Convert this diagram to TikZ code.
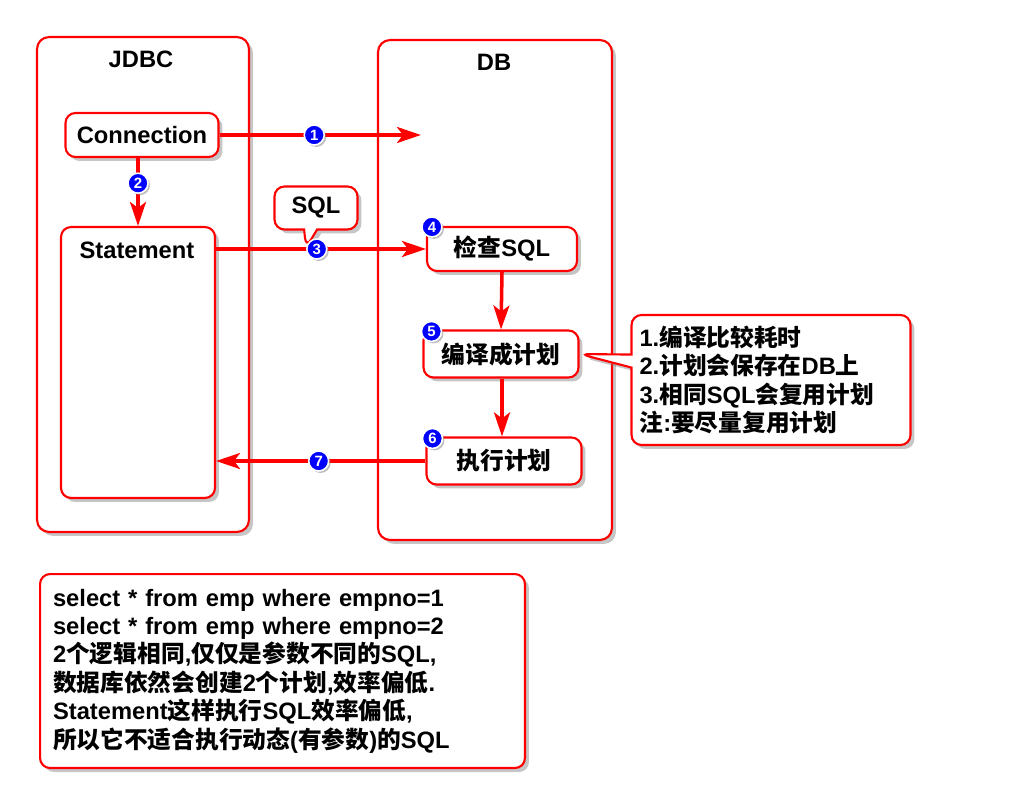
\documentclass[tikz,border=0pt]{standalone}
\usepackage{fontspec}
\setmainfont{Liberation Sans}
\newfontfamily\cjk{Noto Sans CJK SC}
\usepackage{xcolor}
\usetikzlibrary{%
  shadows, shapes.callouts, arrows.meta, positioning, calc
}
\newcommand{\zh}[1]{{\cjk #1}}
\definecolor{linered}{RGB}{255,0,0}
\definecolor{numblue}{RGB}{0,0,255}
\tikzstyle{lane} = [%
  rectangle,
  draw=linered,
  line width=1.2pt,
  rounded corners=0.24cm,
  fill=white,
  drop shadow={shadow xshift=0.08cm,shadow yshift=-0.08cm,opacity=0.45}
]
\tikzstyle{proc} = [%
  rectangle,
  draw=linered,
  line width=1.2pt,
  rounded corners=0.2cm,
  fill=white,
  align=center,
  inner sep=2pt,
  drop shadow={shadow xshift=0.08cm,shadow yshift=-0.08cm,opacity=0.45}
]
\tikzstyle{num} = [%
  circle,
  fill=numblue,
  draw=white,
  line width=0.9pt,
  minimum size=0.4cm,
  inner sep=0pt,
  text=white,
  font=\bfseries\fontsize{8.5}{8.5}\selectfont,
  drop shadow={shadow xshift=0.04cm,shadow yshift=-0.04cm,opacity=0.5}
]
\tikzstyle{flow} = [%
  draw=linered,
  line width=2pt,
  -{Stealth[length=0.48cm,width=0.32cm,inset=0.12cm]}
]

\begin{document}
\begin{tikzpicture}[%
  x=0.02cm, y=-0.02cm,
  every node/.style={%
    font=\bfseries\fontsize{13.5}{16.2}\selectfont,
    text=black
  },
  callbox/.style={%
    proc,
    rectangle callout,
    callout pointer width=0.26cm
  }
]
  \useasboundingbox (0,0) rectangle (1024,810);

  % Lanes
  \node[lane,minimum width=4.24cm,minimum height=9.9cm] (jdbc) at (143,284.5) {};
  \node[lane,minimum width=4.68cm,minimum height=10cm] (db) at (495,290) {};
  \node (jdbcT) at (141,59) {JDBC};
  \node (dbT) at (494,62) {DB};

  % Nodes
  \node[proc,minimum width=3.06cm,minimum height=0.88cm] (conn) at (142,135) {Connection};
  \node[proc,minimum width=3.08cm,minimum height=5.42cm] (stmt) at (138,362.5) {};
  \node (stmtT) at (137,250) {Statement};
  \node[proc,minimum width=3cm,minimum height=0.88cm] (e4) at (502,249) {\zh{检查}SQL};
  \node[proc,minimum width=3.1cm,minimum height=0.94cm] (e5) at (501,354) {\zh{编译成计划}};
  \node[proc,minimum width=3.1cm,minimum height=0.94cm] (e6) at (504,461) {\zh{执行计划}};
  \coordinate (c1) at (421,135);
  \coordinate (tip3) at (306,248);

  % Callouts
  \node[callbox,minimum width=1.66cm,minimum height=0.86cm,
    callout absolute pointer={(tip3)}] (sql) at (316,208) {SQL};
  \node[callbox,align=left,text width=5.26cm,inner xsep=0.16cm,minimum height=2.6cm,
    callout absolute pointer={(e5.east)}] (tip) at (771,380)
    {1.\zh{编译比较耗时}\\
     2.\zh{计划会保存在}DB\zh{上}\\
     3.\zh{相同}SQL\zh{会复用计划}\\
     \zh{注}:\zh{要尽量复用计划}};

  % Edges
  \draw[flow] (conn.east) to node[num,pos=0.47] (n1) {1} (c1);
  \draw[flow] (conn.south -| stmt.north) to node[num,pos=0.37] (n2) {2} (stmt.north);
  \draw[flow] (stmt.east |- e4.west) to node[num,pos=0.48] (n3) {3} (e4.west);
  \draw[flow] (e4.south) to (e5.north);
  \draw[flow] (e5.south -| e4.south) to (e6.north -| e4.south);
  \draw[flow] (e6.west) to node[num,pos=0.51] (n7) {7} (stmt.east |- e6.west);

  \node[num] (n4) at ([xshift=0.12cm,yshift=-0.02cm]e4.north west) {4};
  \node[num] (n5) at ([xshift=0.18cm,yshift=-0.04cm]e5.north west) {5};
  \node[num] (n6) at ([xshift=0.14cm,yshift=-0.04cm]e6.north west) {6};

  % Note
  \node[proc,anchor=north west,align=left,text width=9.18cm,inner xsep=0.26cm,
    minimum height=3.88cm] (memo) at (39,573)
    {select * from emp where empno=1\\
     select * from emp where empno=2\\
     2\zh{个逻辑相同},\zh{仅仅是参数不同的}SQL,\\
     \zh{数据库依然会创建}2\zh{个计划},\zh{效率偏低}.\\
     Statement\zh{这样执行}SQL\zh{效率偏低},\\
     \zh{所以它不适合执行动态}(\zh{有参数})\zh{的}SQL};

\end{tikzpicture}
\end{document}
